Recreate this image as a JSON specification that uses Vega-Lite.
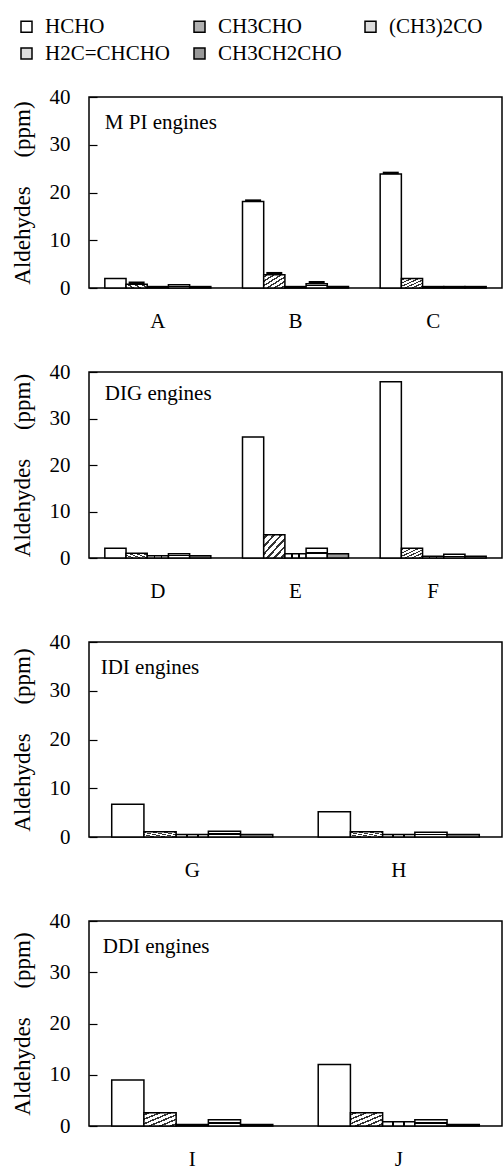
{
  "$schema": "https://vega.github.io/schema/vega-lite/v6.json",
  "background": "white",
  "padding": {"left": 10, "top": 16, "right": 0, "bottom": 0},
  "datasets": {
    "d": [
      {"panel": "MPI", "engine": "A", "compound": "HCHO", "value": 2.0},
      {"panel": "MPI", "engine": "A", "compound": "CH3CHO", "value": 0.8, "hi": 1.1},
      {"panel": "MPI", "engine": "A", "compound": "(CH3)2CO", "value": 0.3},
      {"panel": "MPI", "engine": "A", "compound": "H2C=CHCHO", "value": 0.7},
      {"panel": "MPI", "engine": "A", "compound": "CH3CH2CHO", "value": 0.3},
      {"panel": "MPI", "engine": "B", "compound": "HCHO", "value": 18.1, "hi": 18.3},
      {"panel": "MPI", "engine": "B", "compound": "CH3CHO", "value": 2.8, "hi": 3.1},
      {"panel": "MPI", "engine": "B", "compound": "(CH3)2CO", "value": 0.3},
      {"panel": "MPI", "engine": "B", "compound": "H2C=CHCHO", "value": 0.9, "hi": 1.2},
      {"panel": "MPI", "engine": "B", "compound": "CH3CH2CHO", "value": 0.3},
      {"panel": "MPI", "engine": "C", "compound": "HCHO", "value": 23.9, "hi": 24.1},
      {"panel": "MPI", "engine": "C", "compound": "CH3CHO", "value": 2.0},
      {"panel": "MPI", "engine": "C", "compound": "(CH3)2CO", "value": 0.3},
      {"panel": "MPI", "engine": "C", "compound": "H2C=CHCHO", "value": 0.3},
      {"panel": "MPI", "engine": "C", "compound": "CH3CH2CHO", "value": 0.3},
      {"panel": "DIG", "engine": "D", "compound": "HCHO", "value": 2.1},
      {"panel": "DIG", "engine": "D", "compound": "CH3CHO", "value": 1.0},
      {"panel": "DIG", "engine": "D", "compound": "(CH3)2CO", "value": 0.5},
      {"panel": "DIG", "engine": "D", "compound": "H2C=CHCHO", "value": 0.9},
      {"panel": "DIG", "engine": "D", "compound": "CH3CH2CHO", "value": 0.5},
      {"panel": "DIG", "engine": "E", "compound": "HCHO", "value": 26.0},
      {"panel": "DIG", "engine": "E", "compound": "CH3CHO", "value": 5.0},
      {"panel": "DIG", "engine": "E", "compound": "(CH3)2CO", "value": 0.9},
      {"panel": "DIG", "engine": "E", "compound": "H2C=CHCHO", "value": 2.1},
      {"panel": "DIG", "engine": "E", "compound": "CH3CH2CHO", "value": 0.9},
      {"panel": "DIG", "engine": "F", "compound": "HCHO", "value": 37.9},
      {"panel": "DIG", "engine": "F", "compound": "CH3CHO", "value": 2.1},
      {"panel": "DIG", "engine": "F", "compound": "(CH3)2CO", "value": 0.4},
      {"panel": "DIG", "engine": "F", "compound": "H2C=CHCHO", "value": 0.8},
      {"panel": "DIG", "engine": "F", "compound": "CH3CH2CHO", "value": 0.4},
      {"panel": "IDI", "engine": "G", "compound": "HCHO", "value": 6.7},
      {"panel": "IDI", "engine": "G", "compound": "CH3CHO", "value": 1.1},
      {"panel": "IDI", "engine": "G", "compound": "(CH3)2CO", "value": 0.5},
      {"panel": "IDI", "engine": "G", "compound": "H2C=CHCHO", "value": 1.2},
      {"panel": "IDI", "engine": "G", "compound": "CH3CH2CHO", "value": 0.5},
      {"panel": "IDI", "engine": "H", "compound": "HCHO", "value": 5.2},
      {"panel": "IDI", "engine": "H", "compound": "CH3CHO", "value": 1.1},
      {"panel": "IDI", "engine": "H", "compound": "(CH3)2CO", "value": 0.5},
      {"panel": "IDI", "engine": "H", "compound": "H2C=CHCHO", "value": 0.95},
      {"panel": "IDI", "engine": "H", "compound": "CH3CH2CHO", "value": 0.5},
      {"panel": "DDI", "engine": "I", "compound": "HCHO", "value": 9.0},
      {"panel": "DDI", "engine": "I", "compound": "CH3CHO", "value": 2.6},
      {"panel": "DDI", "engine": "I", "compound": "(CH3)2CO", "value": 0.3},
      {"panel": "DDI", "engine": "I", "compound": "H2C=CHCHO", "value": 1.2},
      {"panel": "DDI", "engine": "I", "compound": "CH3CH2CHO", "value": 0.3},
      {"panel": "DDI", "engine": "J", "compound": "HCHO", "value": 12.0},
      {"panel": "DDI", "engine": "J", "compound": "CH3CHO", "value": 2.6},
      {"panel": "DDI", "engine": "J", "compound": "(CH3)2CO", "value": 0.85},
      {"panel": "DDI", "engine": "J", "compound": "H2C=CHCHO", "value": 1.2},
      {"panel": "DDI", "engine": "J", "compound": "CH3CH2CHO", "value": 0.3}
    ],
    "labels": [
      {"panel": "MPI", "engine": "A", "label": "M PI engines", "y": 34.6},
      {"panel": "DIG", "engine": "D", "label": "DIG engines", "y": 35.3},
      {"panel": "IDI", "engine": "G", "label": "IDI engines", "y": 34.6},
      {"panel": "DDI", "engine": "I", "label": "DDI engines", "y": 34.9}
    ]
  },
  "config": {
    "font": "Liberation Serif",
    "view": {"stroke": "black", "strokeWidth": 1.5},
    "text": {"font": "Liberation Serif"},
    "axis": {
      "grid": false,
      "labelColor": "black",
      "titleColor": "black",
      "labelFont": "Liberation Serif",
      "titleFont": "Liberation Serif",
      "labelFontSize": 21,
      "titleFontSize": 23,
      "titleFontWeight": "normal"
    },
    "axisX": {"domain": false, "ticks": false, "labelPadding": 22, "labelAngle": 0, "title": null},
    "axisY": {"domain": false, "tickSize": -8, "tickColor": "black", "tickWidth": 1.2, "labelPadding": 27, "titlePadding": 15},
    "legend": {
      "orient": "none",
      "legendX": -73,
      "legendY": -81,
      "direction": "horizontal",
      "columns": 3,
      "title": null,
      "symbolType": "square",
      "symbolSize": 121,
      "symbolStrokeColor": "black",
      "symbolStrokeWidth": 1.5,
      "labelFont": "Liberation Serif",
      "labelFontSize": 21,
      "labelColor": "black",
      "labelOffset": 8,
      "labelLimit": 300,
      "columnPadding": 18,
      "rowPadding": 5
    },
    "bar": {"stroke": "black", "strokeWidth": 1.5}
  },
  "spacing": 28,
  "resolve": {"scale": {"x": "independent", "xOffset": "independent"}},
  "vconcat": [
    {
      "width": 413, "height": 191,
      "layer": [
        {
          "data": {"name": "d"},
          "transform": [{"filter": "datum.panel == 'MPI'"}],
          "mark": {"type": "bar"},
          "encoding": {
            "x": {"field": "engine", "type": "nominal", "scale": {"paddingInner": 0.23, "paddingOuter": 0.115}},
            "xOffset": {"field": "compound", "type": "nominal", "sort": ["HCHO", "CH3CHO", "(CH3)2CO", "H2C=CHCHO", "CH3CH2CHO"]},
            "y": {"field": "value", "type": "quantitative", "scale": {"domain": [0, 40]}, "axis": {"values": [0, 10, 20, 30, 40], "title": "Aldehydes\u00a0\u00a0\u00a0\u00a0\u00a0(ppm)"}},
            "fill": {
              "condition": [
                {"test": "datum.compound === 'CH3CHO'", "value": {"gradient": "linear", "x1": 0, "y1": 0, "x2": 1, "y2": 1, "stops": [
                  {"offset": 0, "color": "white"}, {"offset": 0.053, "color": "white"}, {"offset": 0.053, "color": "#333"}, {"offset": 0.113, "color": "#333"}, {"offset": 0.113, "color": "white"},
                  {"offset": 0.22, "color": "white"}, {"offset": 0.22, "color": "#333"}, {"offset": 0.28, "color": "#333"}, {"offset": 0.28, "color": "white"},
                  {"offset": 0.387, "color": "white"}, {"offset": 0.387, "color": "#333"}, {"offset": 0.447, "color": "#333"}, {"offset": 0.447, "color": "white"},
                  {"offset": 0.553, "color": "white"}, {"offset": 0.553, "color": "#333"}, {"offset": 0.613, "color": "#333"}, {"offset": 0.613, "color": "white"},
                  {"offset": 0.72, "color": "white"}, {"offset": 0.72, "color": "#333"}, {"offset": 0.78, "color": "#333"}, {"offset": 0.78, "color": "white"},
                  {"offset": 0.887, "color": "white"}, {"offset": 0.887, "color": "#333"}, {"offset": 0.947, "color": "#333"}, {"offset": 0.947, "color": "white"}, {"offset": 1, "color": "white"}]}},
                {"test": "datum.compound === 'H2C=CHCHO'", "value": {"gradient": "linear", "x1": 0, "y1": 0, "x2": 0, "y2": 1, "stops": [
                  {"offset": 0, "color": "white"}, {"offset": 0.4, "color": "white"}, {"offset": 0.4, "color": "black"}, {"offset": 0.6, "color": "black"}, {"offset": 0.6, "color": "white"}, {"offset": 1, "color": "white"}]}},
                {"test": "datum.compound === '(CH3)2CO'", "value": {"gradient": "linear", "x1": 0, "y1": 0, "x2": 1, "y2": 0, "stops": [
                  {"offset": 0, "color": "white"}, {"offset": 0.3, "color": "white"}, {"offset": 0.3, "color": "black"}, {"offset": 0.36, "color": "black"}, {"offset": 0.36, "color": "white"},
                  {"offset": 0.64, "color": "white"}, {"offset": 0.64, "color": "black"}, {"offset": 0.7, "color": "black"}, {"offset": 0.7, "color": "white"}, {"offset": 1, "color": "white"}]}}
              ],
              "field": "compound", "type": "nominal", "sort": ["HCHO", "CH3CHO", "(CH3)2CO", "H2C=CHCHO", "CH3CH2CHO"],
              "scale": {"domain": ["HCHO", "CH3CHO", "(CH3)2CO", "H2C=CHCHO", "CH3CH2CHO"], "range": ["#ffffff", "#b0b0b0", "#dddddd", "#dddddd", "#999999"]}}
          }
        },
        {
          "data": {"name": "d"},
          "transform": [{"filter": "datum.panel == 'MPI' && isValid(datum.hi)"}],
          "mark": {"type": "tick", "color": "black", "thickness": 2.5, "size": 16, "opacity": 1},
          "encoding": {
            "x": {"field": "engine", "type": "nominal"},
            "xOffset": {"field": "compound", "type": "nominal", "sort": ["HCHO", "CH3CHO", "(CH3)2CO", "H2C=CHCHO", "CH3CH2CHO"]},
            "y": {"field": "hi", "type": "quantitative"}
          }
        },
        {
          "data": {"name": "labels"},
          "transform": [{"filter": "datum.panel == 'MPI'"}],
          "mark": {"type": "text", "align": "left", "baseline": "middle", "fontSize": 21, "dx": 0, "color": "black", "font": "Liberation Serif"},
          "encoding": {
            "x": {"field": "engine", "type": "nominal", "bandPosition": 0},
            "y": {"field": "y", "type": "quantitative"},
            "text": {"field": "label"}
          }
        }
      ]
    },
    {
      "width": 413, "height": 186,
      "layer": [
        {
          "data": {"name": "d"},
          "transform": [{"filter": "datum.panel == 'DIG'"}],
          "mark": {"type": "bar"},
          "encoding": {
            "x": {"field": "engine", "type": "nominal", "scale": {"paddingInner": 0.23, "paddingOuter": 0.115}},
            "xOffset": {"field": "compound", "type": "nominal", "sort": ["HCHO", "CH3CHO", "(CH3)2CO", "H2C=CHCHO", "CH3CH2CHO"]},
            "y": {"field": "value", "type": "quantitative", "scale": {"domain": [0, 40]}, "axis": {"values": [0, 10, 20, 30, 40], "title": "Aldehydes\u00a0\u00a0\u00a0\u00a0\u00a0(ppm)"}},
            "fill": {
              "condition": [
                {"test": "datum.compound === 'CH3CHO'", "value": {"gradient": "linear", "x1": 0, "y1": 0, "x2": 1, "y2": 1, "stops": [
                  {"offset": 0, "color": "white"}, {"offset": 0.053, "color": "white"}, {"offset": 0.053, "color": "#333"}, {"offset": 0.113, "color": "#333"}, {"offset": 0.113, "color": "white"},
                  {"offset": 0.22, "color": "white"}, {"offset": 0.22, "color": "#333"}, {"offset": 0.28, "color": "#333"}, {"offset": 0.28, "color": "white"},
                  {"offset": 0.387, "color": "white"}, {"offset": 0.387, "color": "#333"}, {"offset": 0.447, "color": "#333"}, {"offset": 0.447, "color": "white"},
                  {"offset": 0.553, "color": "white"}, {"offset": 0.553, "color": "#333"}, {"offset": 0.613, "color": "#333"}, {"offset": 0.613, "color": "white"},
                  {"offset": 0.72, "color": "white"}, {"offset": 0.72, "color": "#333"}, {"offset": 0.78, "color": "#333"}, {"offset": 0.78, "color": "white"},
                  {"offset": 0.887, "color": "white"}, {"offset": 0.887, "color": "#333"}, {"offset": 0.947, "color": "#333"}, {"offset": 0.947, "color": "white"}, {"offset": 1, "color": "white"}]}},
                {"test": "datum.compound === 'H2C=CHCHO'", "value": {"gradient": "linear", "x1": 0, "y1": 0, "x2": 0, "y2": 1, "stops": [
                  {"offset": 0, "color": "white"}, {"offset": 0.4, "color": "white"}, {"offset": 0.4, "color": "black"}, {"offset": 0.6, "color": "black"}, {"offset": 0.6, "color": "white"}, {"offset": 1, "color": "white"}]}},
                {"test": "datum.compound === '(CH3)2CO'", "value": {"gradient": "linear", "x1": 0, "y1": 0, "x2": 1, "y2": 0, "stops": [
                  {"offset": 0, "color": "white"}, {"offset": 0.3, "color": "white"}, {"offset": 0.3, "color": "black"}, {"offset": 0.36, "color": "black"}, {"offset": 0.36, "color": "white"},
                  {"offset": 0.64, "color": "white"}, {"offset": 0.64, "color": "black"}, {"offset": 0.7, "color": "black"}, {"offset": 0.7, "color": "white"}, {"offset": 1, "color": "white"}]}}
              ],
              "field": "compound", "type": "nominal", "sort": ["HCHO", "CH3CHO", "(CH3)2CO", "H2C=CHCHO", "CH3CH2CHO"],
              "scale": {"domain": ["HCHO", "CH3CHO", "(CH3)2CO", "H2C=CHCHO", "CH3CH2CHO"], "range": ["#ffffff", "#b0b0b0", "#dddddd", "#dddddd", "#999999"]}}
          }
        },
        {
          "data": {"name": "labels"},
          "transform": [{"filter": "datum.panel == 'DIG'"}],
          "mark": {"type": "text", "align": "left", "baseline": "middle", "fontSize": 21, "dx": 0, "color": "black", "font": "Liberation Serif"},
          "encoding": {
            "x": {"field": "engine", "type": "nominal", "bandPosition": 0},
            "y": {"field": "y", "type": "quantitative"},
            "text": {"field": "label"}
          }
        }
      ]
    },
    {
      "width": 413, "height": 195,
      "layer": [
        {
          "data": {"name": "d"},
          "transform": [{"filter": "datum.panel == 'IDI'"}],
          "mark": {"type": "bar"},
          "encoding": {
            "x": {"field": "engine", "type": "nominal", "scale": {"paddingInner": 0.22, "paddingOuter": 0.11}},
            "xOffset": {"field": "compound", "type": "nominal", "sort": ["HCHO", "CH3CHO", "(CH3)2CO", "H2C=CHCHO", "CH3CH2CHO"]},
            "y": {"field": "value", "type": "quantitative", "scale": {"domain": [0, 40]}, "axis": {"values": [0, 10, 20, 30, 40], "title": "Aldehydes\u00a0\u00a0\u00a0\u00a0\u00a0(ppm)"}},
            "fill": {
              "condition": [
                {"test": "datum.compound === 'CH3CHO'", "value": {"gradient": "linear", "x1": 0, "y1": 0, "x2": 1, "y2": 1, "stops": [
                  {"offset": 0, "color": "white"}, {"offset": 0.053, "color": "white"}, {"offset": 0.053, "color": "#333"}, {"offset": 0.113, "color": "#333"}, {"offset": 0.113, "color": "white"},
                  {"offset": 0.22, "color": "white"}, {"offset": 0.22, "color": "#333"}, {"offset": 0.28, "color": "#333"}, {"offset": 0.28, "color": "white"},
                  {"offset": 0.387, "color": "white"}, {"offset": 0.387, "color": "#333"}, {"offset": 0.447, "color": "#333"}, {"offset": 0.447, "color": "white"},
                  {"offset": 0.553, "color": "white"}, {"offset": 0.553, "color": "#333"}, {"offset": 0.613, "color": "#333"}, {"offset": 0.613, "color": "white"},
                  {"offset": 0.72, "color": "white"}, {"offset": 0.72, "color": "#333"}, {"offset": 0.78, "color": "#333"}, {"offset": 0.78, "color": "white"},
                  {"offset": 0.887, "color": "white"}, {"offset": 0.887, "color": "#333"}, {"offset": 0.947, "color": "#333"}, {"offset": 0.947, "color": "white"}, {"offset": 1, "color": "white"}]}},
                {"test": "datum.compound === 'H2C=CHCHO'", "value": {"gradient": "linear", "x1": 0, "y1": 0, "x2": 0, "y2": 1, "stops": [
                  {"offset": 0, "color": "white"}, {"offset": 0.4, "color": "white"}, {"offset": 0.4, "color": "black"}, {"offset": 0.6, "color": "black"}, {"offset": 0.6, "color": "white"}, {"offset": 1, "color": "white"}]}},
                {"test": "datum.compound === '(CH3)2CO'", "value": {"gradient": "linear", "x1": 0, "y1": 0, "x2": 1, "y2": 0, "stops": [
                  {"offset": 0, "color": "white"}, {"offset": 0.3, "color": "white"}, {"offset": 0.3, "color": "black"}, {"offset": 0.36, "color": "black"}, {"offset": 0.36, "color": "white"},
                  {"offset": 0.64, "color": "white"}, {"offset": 0.64, "color": "black"}, {"offset": 0.7, "color": "black"}, {"offset": 0.7, "color": "white"}, {"offset": 1, "color": "white"}]}}
              ],
              "field": "compound", "type": "nominal", "sort": ["HCHO", "CH3CHO", "(CH3)2CO", "H2C=CHCHO", "CH3CH2CHO"],
              "scale": {"domain": ["HCHO", "CH3CHO", "(CH3)2CO", "H2C=CHCHO", "CH3CH2CHO"], "range": ["#ffffff", "#b0b0b0", "#dddddd", "#dddddd", "#999999"]}}
          }
        },
        {
          "data": {"name": "labels"},
          "transform": [{"filter": "datum.panel == 'IDI'"}],
          "mark": {"type": "text", "align": "left", "baseline": "middle", "fontSize": 21, "dx": -11, "color": "black", "font": "Liberation Serif"},
          "encoding": {
            "x": {"field": "engine", "type": "nominal", "bandPosition": 0},
            "y": {"field": "y", "type": "quantitative"},
            "text": {"field": "label"}
          }
        }
      ]
    },
    {
      "width": 413, "height": 205,
      "layer": [
        {
          "data": {"name": "d"},
          "transform": [{"filter": "datum.panel == 'DDI'"}],
          "mark": {"type": "bar"},
          "encoding": {
            "x": {"field": "engine", "type": "nominal", "scale": {"paddingInner": 0.22, "paddingOuter": 0.11}},
            "xOffset": {"field": "compound", "type": "nominal", "sort": ["HCHO", "CH3CHO", "(CH3)2CO", "H2C=CHCHO", "CH3CH2CHO"]},
            "y": {"field": "value", "type": "quantitative", "scale": {"domain": [0, 40]}, "axis": {"values": [0, 10, 20, 30, 40], "title": "Aldehydes\u00a0\u00a0\u00a0\u00a0\u00a0(ppm)"}},
            "fill": {
              "condition": [
                {"test": "datum.compound === 'CH3CHO'", "value": {"gradient": "linear", "x1": 0, "y1": 0, "x2": 1, "y2": 1, "stops": [
                  {"offset": 0, "color": "white"}, {"offset": 0.053, "color": "white"}, {"offset": 0.053, "color": "#333"}, {"offset": 0.113, "color": "#333"}, {"offset": 0.113, "color": "white"},
                  {"offset": 0.22, "color": "white"}, {"offset": 0.22, "color": "#333"}, {"offset": 0.28, "color": "#333"}, {"offset": 0.28, "color": "white"},
                  {"offset": 0.387, "color": "white"}, {"offset": 0.387, "color": "#333"}, {"offset": 0.447, "color": "#333"}, {"offset": 0.447, "color": "white"},
                  {"offset": 0.553, "color": "white"}, {"offset": 0.553, "color": "#333"}, {"offset": 0.613, "color": "#333"}, {"offset": 0.613, "color": "white"},
                  {"offset": 0.72, "color": "white"}, {"offset": 0.72, "color": "#333"}, {"offset": 0.78, "color": "#333"}, {"offset": 0.78, "color": "white"},
                  {"offset": 0.887, "color": "white"}, {"offset": 0.887, "color": "#333"}, {"offset": 0.947, "color": "#333"}, {"offset": 0.947, "color": "white"}, {"offset": 1, "color": "white"}]}},
                {"test": "datum.compound === 'H2C=CHCHO'", "value": {"gradient": "linear", "x1": 0, "y1": 0, "x2": 0, "y2": 1, "stops": [
                  {"offset": 0, "color": "white"}, {"offset": 0.4, "color": "white"}, {"offset": 0.4, "color": "black"}, {"offset": 0.6, "color": "black"}, {"offset": 0.6, "color": "white"}, {"offset": 1, "color": "white"}]}},
                {"test": "datum.compound === '(CH3)2CO'", "value": {"gradient": "linear", "x1": 0, "y1": 0, "x2": 1, "y2": 0, "stops": [
                  {"offset": 0, "color": "white"}, {"offset": 0.3, "color": "white"}, {"offset": 0.3, "color": "black"}, {"offset": 0.36, "color": "black"}, {"offset": 0.36, "color": "white"},
                  {"offset": 0.64, "color": "white"}, {"offset": 0.64, "color": "black"}, {"offset": 0.7, "color": "black"}, {"offset": 0.7, "color": "white"}, {"offset": 1, "color": "white"}]}}
              ],
              "field": "compound", "type": "nominal", "sort": ["HCHO", "CH3CHO", "(CH3)2CO", "H2C=CHCHO", "CH3CH2CHO"],
              "scale": {"domain": ["HCHO", "CH3CHO", "(CH3)2CO", "H2C=CHCHO", "CH3CH2CHO"], "range": ["#ffffff", "#b0b0b0", "#dddddd", "#dddddd", "#999999"]}}
          }
        },
        {
          "data": {"name": "labels"},
          "transform": [{"filter": "datum.panel == 'DDI'"}],
          "mark": {"type": "text", "align": "left", "baseline": "middle", "fontSize": 21, "dx": -9, "color": "black", "font": "Liberation Serif"},
          "encoding": {
            "x": {"field": "engine", "type": "nominal", "bandPosition": 0},
            "y": {"field": "y", "type": "quantitative"},
            "text": {"field": "label"}
          }
        }
      ]
    }
  ]
}
